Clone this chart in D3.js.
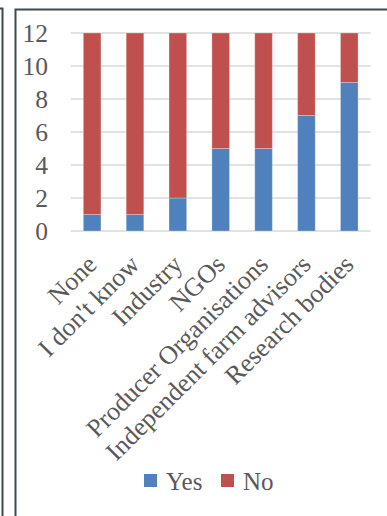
<!DOCTYPE html>
<html><head><meta charset="utf-8">
<script src="https://cdn.jsdelivr.net/npm/d3@7"></script>
<style>body{margin:0;background:#fff;}svg{display:block;}</style>
</head><body>
<svg id="c" width="387" height="516"></svg>
<script>
const categories = ["None","I don't know","Industry","NGOs","Producer Organisations","Independent farm advisors","Research bodies"];
const yesValues = [1,1,2,5,5,7,9];
const noValues = [11,11,10,7,7,5,3];
const seriesNames = ["Yes","No"];
const seriesColors = ["#4F81BD","#C0504D"];
const yTicks = [0,2,4,6,8,10,12];

(function(){
const svg = d3.select("#c");
const font = "'Liberation Serif','Times New Roman',serif";
const plotLeft = 70.7, plotRight = 370.7, plotTop = 33, plotBottom = 231;

svg.append("path").attr("d","M0,8.5 L2.5,8.5 L2.5,516").attr("fill","none").attr("stroke","#3d4b53").attr("stroke-width",2);
svg.append("path").attr("d","M15.5,516 L15.5,9.5 L387,9.5").attr("fill","none").attr("stroke","#3d4b53").attr("stroke-width",2);

const x = d3.scaleBand().domain(categories).range([plotLeft,plotRight]).paddingInner(0.59).paddingOuter(0.295);
const y = d3.scaleLinear().domain([0,12]).range([plotBottom,plotTop]);

svg.append("g").selectAll("line").data(yTicks).join("line")
  .attr("x1",plotLeft).attr("x2",plotRight)
  .attr("y1",d=>y(d)).attr("y2",d=>y(d))
  .attr("stroke","#d9d9d9").attr("stroke-width",1.5);

const data = categories.map((c,i)=>({cat:c, Yes:yesValues[i], No:noValues[i]}));
const stack = d3.stack().keys(seriesNames)(data);
svg.append("g").selectAll("g").data(stack).join("g")
  .attr("fill",(d,i)=>seriesColors[i])
  .selectAll("rect").data(d=>d).join("rect")
  .attr("x",d=>x(d.data.cat)).attr("width",x.bandwidth())
  .attr("y",d=>y(d[1])).attr("height",d=>y(d[0])-y(d[1]))
  .attr("stroke","rgba(255,255,255,0.25)").attr("stroke-width",1);

const yAxis = d3.axisLeft(y).tickValues(yTicks).tickSize(0).tickPadding(0);
const yg = svg.append("g").attr("transform","translate(48,0)").call(yAxis);
yg.select(".domain").remove();
yg.attr("font-family",font).attr("font-size",25.5);
yg.selectAll("text").style("font-family",font).style("font-size","25.5px").attr("fill","#595959").attr("dy","0.33em");

const xAxis = d3.axisBottom(x).tickSize(0).tickPadding(0);
const xg = svg.append("g").attr("transform",`translate(0,${plotBottom})`).call(xAxis);
xg.select(".domain").remove();
xg.attr("font-family",font).attr("font-size",26);
xg.selectAll("text")
  .style("font-family",font).style("font-size","26px").attr("fill","#595959")
  .attr("text-anchor","end").attr("dy",null).attr("y",0)
  .attr("transform","translate(6,35) rotate(-45)");

const lg = svg.append("g");
const legendX = [144,221];
seriesNames.forEach((n,i)=>{
  lg.append("rect").attr("x",legendX[i]).attr("y",474).attr("width",13).attr("height",13).attr("fill",seriesColors[i]);
  lg.append("text").attr("x",legendX[i]+22).attr("y",489.5).text(n)
    .style("font-family",font).style("font-size","25px").attr("fill","#595959");
});
})();
</script>
</body></html>
